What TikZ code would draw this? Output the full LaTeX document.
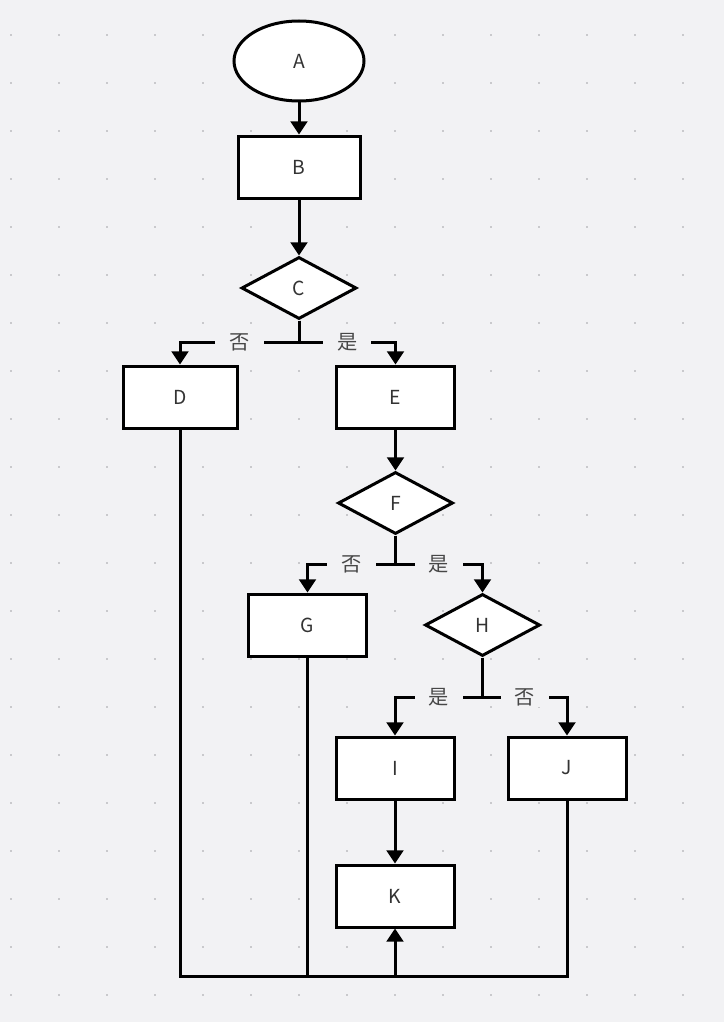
\documentclass[tikz,border=0pt]{standalone}
\usepackage{fontspec}
\setmainfont{Noto Sans CJK SC}
\usepackage{tikz}
\usetikzlibrary{arrows.meta,positioning,shapes.geometric}
\definecolor{canvas}{HTML}{F2F2F4}
\definecolor{griddot}{HTML}{C9C9CC}
\definecolor{inkgray}{HTML}{333333}

\begin{document}
\begin{tikzpicture}[
  node distance=0.7cm,
  base/.style={draw=black, fill=white, line width=0.06cm, text=inkgray,
               font=\fontsize{11}{13}\selectfont, inner sep=1pt},
  box/.style={base, rectangle, minimum width=2.36cm, minimum height=1.24cm},
  cond/.style={base, diamond, minimum width=2.3cm, minimum height=1.24cm},
  term/.style={base, ellipse, minimum width=2.6cm, minimum height=1.6cm},
  lbl/.style={fill=canvas, text=inkgray!90, inner xsep=0.28cm, inner ysep=1pt,
              font=\fontsize{11.5}{13}\selectfont},
  link/.style={line width=0.06cm, black},
  arr/.style={link, -{Triangle[length=7.5pt, width=9.5pt]}}
]
% canvas and dot grid
\fill[canvas] (0,0) rectangle (14.48,-20.44);
\useasboundingbox (0,0) rectangle (14.48,-20.44);
\foreach \i in {0,...,14}
  \foreach \j in {0,...,20}
    \fill[griddot] (0.2+0.96*\i,-0.68-0.96*\j) rectangle ++(0.045,-0.045);

% main column
\node[term] (a) at (5.98,-1.22) {A};
\node[box, minimum width=2.44cm, below=0.64cm of a] (b) {B};
\node[cond, below=1.12cm of b] (c) {C};
\node[box, minimum width=2.28cm, below=0.88cm of c, xshift=-2.38cm] (d) {D};
\node[box, below=0.88cm of c, xshift=1.93cm] (e) {E};
\node[cond, below=0.82cm of e] (f) {F};
\node[box, below=1.14cm of f, xshift=-1.76cm] (g) {G};
\node[cond, below=1.14cm of f, xshift=1.74cm] (h) {H};
\node[box, below=1.56cm of h, xshift=-1.75cm] (i) {I};
\node[box, below=1.56cm of h, xshift=1.69cm] (j) {J};
\node[box, below=1.26cm of i] (k) {K};
\coordinate[below=0.96cm of k] (merge);

\draw[arr] (a) -- (b);
\draw[arr] (b) -- (c);
\draw[arr] (c.south) -- ++(0,-0.43) -| node[lbl, pos=0.25] {否} (d.north);
\draw[arr] (c.south) -- ++(0,-0.43) -| node[lbl, pos=0.25] {是} (e.north);
\draw[arr] (e) -- (f);
\draw[arr] (f.south) -- ++(0,-0.57) -| node[lbl, pos=0.25] {否} (g.north);
\draw[arr] (f.south) -- ++(0,-0.57) -| node[lbl, pos=0.25] {是} (h.north);
\draw[arr] (h.south) -- ++(0,-0.79) -| node[lbl, pos=0.25] {是} (i.north);
\draw[arr] (h.south) -- ++(0,-0.79) -| node[lbl, pos=0.25] {否} (j.north);
\draw[arr] (i) -- (k);

% collect into K
\draw[link] (d.south) |- (merge);
\draw[link] (g.south) |- (merge);
\draw[link] (j.south) |- (merge);
\draw[arr] (merge) -- (k.south);
\end{tikzpicture}
\end{document}
